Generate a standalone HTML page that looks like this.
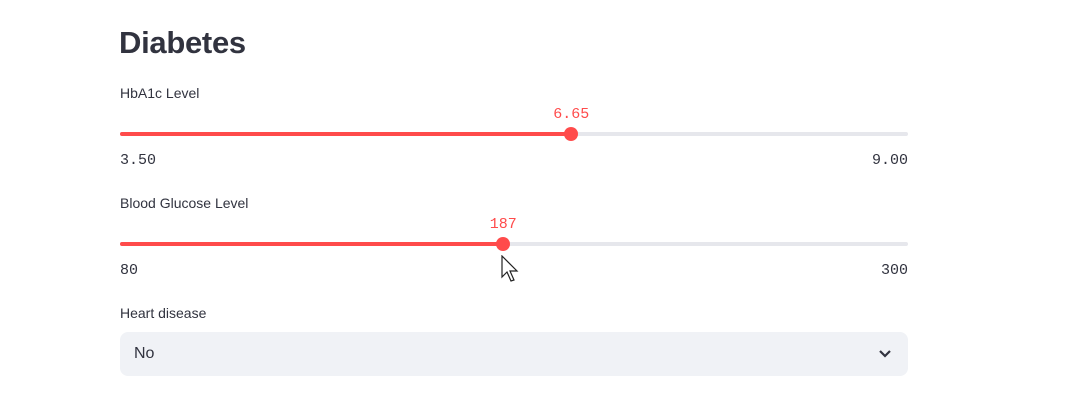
<!DOCTYPE html>
<html><head><meta charset="utf-8"><style>
body{margin:0;width:1072px;height:408px;background:#fff;font-family:"Liberation Sans",sans-serif;position:relative;overflow:hidden;color:#31333f}
.abs{position:absolute}
h1{position:absolute;left:119px;top:25px;margin:0;font-size:31px;font-weight:700;color:#31333f;letter-spacing:-0.3px}
.lbl{position:absolute;left:120px;font-size:14px;color:#31333f}
.track{position:absolute;left:120px;width:788px;height:4px;border-radius:2px;background:#e6e7ec}
.fill{position:absolute;left:0;top:0;height:4px;border-radius:2px;background:#ff4b4b}
.thumb{position:absolute;top:-5px;width:14px;height:14px;border-radius:50%;background:#ff4b4b;margin-left:-7px}
.val{position:absolute;top:-26px;font-family:"Liberation Mono",monospace;font-size:15px;color:#ff4b4b;transform:translateX(-50%)}
.mm{position:absolute;font-family:"Liberation Mono",monospace;font-size:15px;color:#31333f}
.sel{position:absolute;left:120px;top:332px;width:788px;height:44px;border-radius:8px;background:#f0f2f6}
</style></head><body>
<h1>Diabetes</h1>
<div class="lbl" style="top:85px">HbA1c Level</div>
<div class="track" style="top:132px" id="s1"></div>
<div class="mm" style="left:120px;top:152px">3.50</div>
<div class="mm" style="right:164px;top:152px">9.00</div>
<div class="lbl" style="top:195px">Blood Glucose Level</div>
<div class="track" style="top:242px" id="s2"></div>
<div class="mm" style="left:120px;top:262px">80</div>
<div class="mm" style="right:164px;top:262px">300</div>
<div class="lbl" style="top:305px">Heart disease</div>
<div class="sel">
<span class="abs" style="left:14px;top:13px;font-size:16px">No</span>
<svg class="abs" style="left:758px;top:17px" width="14" height="10"><path d="M2 2 L7 7 L12 2" stroke="#31333f" stroke-width="2.2" fill="none"/></svg>
</div>
<svg class="abs" style="left:500px;top:255px" width="22" height="30"><path d="M2 1 L2 22 L7 17 L11 26 L14 25 L10 16 L17 16 Z" fill="#fff" stroke="#222" stroke-width="1.2"/></svg>
<script>
const sliderMins=[3.5,80];
const sliderMaxs=[9.0,300];
const sliderValues=[6.65,187];
const sliderLabels=["6.65","187"];
const W=788;
["s1","s2"].forEach((id,i)=>{
 const t=document.getElementById(id);
 const x=(sliderValues[i]-sliderMins[i])/(sliderMaxs[i]-sliderMins[i])*W;
 const f=document.createElement('div');f.className='fill';f.style.width=x+'px';
 
 
 const th=document.createElement('div');th.className='thumb';th.style.left=x+'px';
 
 
 const v=document.createElement('div');v.className='val';v.style.left=x+'px';v.textContent=sliderLabels[i];
 
 
 t.appendChild(f);t.appendChild(th);t.appendChild(v);
});
</script>
</body></html>
